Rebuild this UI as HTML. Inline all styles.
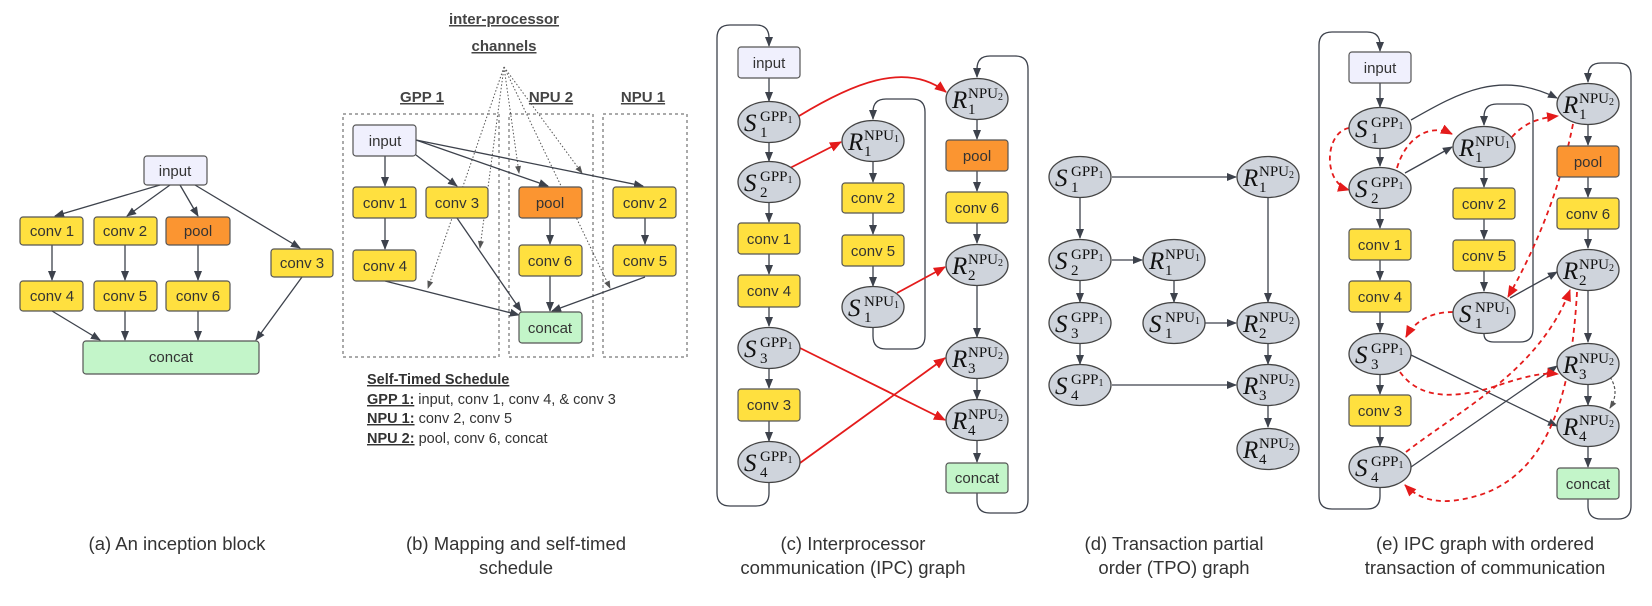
<!DOCTYPE html>
<html><head><meta charset="utf-8"><style>
body{margin:0;background:#fff}
svg{display:block}
.bx{stroke:#555;stroke-width:1.2}
.i{fill:#f0f0fd}.y{fill:#ffe03f}.o{fill:#fb9531}.g{fill:#c3f5c9}
.t{font-family:"Liberation Sans",sans-serif;font-size:15px;fill:#333;text-anchor:middle}
.e{stroke:#3d424c;stroke-width:1.3;fill:none}
.r{stroke:#e41b1b;stroke-width:1.8;fill:none}
.rd{stroke:#e41b1b;stroke-width:1.8;fill:none;stroke-dasharray:5 4}
.dt{stroke:#555;stroke-width:1;fill:none;stroke-dasharray:1.5 2}
.n ellipse{fill:#cfd4dc;stroke:#444;stroke-width:1.3}
.v{font-family:"Liberation Serif",serif;font-style:italic;font-size:25px;fill:#111}
.p{font-family:"Liberation Serif",serif;font-size:15px;fill:#111}
.q{font-size:10px}
.c{font-family:"Liberation Sans",sans-serif;font-size:18.5px;fill:#333;text-anchor:middle}
.h{font-family:"Liberation Sans",sans-serif;font-size:15px;font-weight:bold;fill:#444;text-decoration:underline}
.s{font-family:"Liberation Sans",sans-serif;font-size:14.5px;fill:#333}
</style></head><body>
<svg width="1652" height="606" viewBox="0 0 1652 606" xmlns="http://www.w3.org/2000/svg">
<defs>
<marker id="a" markerWidth="10" markerHeight="10" refX="9" refY="5" orient="auto" markerUnits="userSpaceOnUse"><path d="M0,1 L10,5 L0,9 z" fill="#3d424c"/></marker>
<marker id="ar" markerWidth="12" markerHeight="12" refX="11" refY="6" orient="auto" markerUnits="userSpaceOnUse"><path d="M0,1 L12,6 L0,11 z" fill="#e41b1b"/></marker>
<marker id="ad" markerWidth="8" markerHeight="8" refX="7" refY="4" orient="auto" markerUnits="userSpaceOnUse"><path d="M0,1 L8,4 L0,7 z" fill="#555"/></marker>
</defs>

<!-- Panel a -->
<g class="e" marker-end="url(#a)">
<line x1="160" y1="185" x2="55" y2="216"/><line x1="170" y1="185" x2="127" y2="216"/>
<line x1="180" y1="185" x2="198" y2="216"/><line x1="195" y1="185" x2="300" y2="248"/>
<line x1="52" y1="245" x2="52" y2="280"/><line x1="125" y1="245" x2="125" y2="280"/><line x1="198" y1="245" x2="198" y2="280"/>
<line x1="52" y1="311" x2="100" y2="340"/><line x1="125" y1="311" x2="125" y2="340"/><line x1="198" y1="311" x2="198" y2="340"/>
<line x1="302" y1="277" x2="256" y2="340"/>
</g>
<rect class="bx i" x="144" y="156" width="63" height="29" rx="3"/><text class="t" x="175" y="176">input</text>
<rect class="bx y" x="20" y="217" width="63" height="28" rx="3"/><text class="t" x="52" y="236">conv 1</text>
<rect class="bx y" x="94" y="217" width="63" height="28" rx="3"/><text class="t" x="125" y="236">conv 2</text>
<rect class="bx o" x="166" y="217" width="64" height="28" rx="3"/><text class="t" x="198" y="236">pool</text>
<rect class="bx y" x="271" y="249" width="62" height="28" rx="3"/><text class="t" x="302" y="268">conv 3</text>
<rect class="bx y" x="20" y="281" width="63" height="30" rx="3"/><text class="t" x="52" y="301">conv 4</text>
<rect class="bx y" x="94" y="281" width="63" height="30" rx="3"/><text class="t" x="125" y="301">conv 5</text>
<rect class="bx y" x="166" y="281" width="64" height="30" rx="3"/><text class="t" x="198" y="301">conv 6</text>
<rect class="bx g" x="83" y="341" width="176" height="33" rx="3"/><text class="t" x="171" y="362">concat</text>
<text class="c" x="177" y="550">(a) An inception block</text>

<!-- Panel b -->
<text class="h" x="504" y="24" text-anchor="middle">inter-processor</text>
<text class="h" x="504" y="51" text-anchor="middle">channels</text>
<text class="h" x="422" y="102" text-anchor="middle">GPP 1</text>
<text class="h" x="551" y="102" text-anchor="middle">NPU 2</text>
<text class="h" x="643" y="102" text-anchor="middle">NPU 1</text>
<rect x="343" y="114" width="156" height="243" fill="none" stroke="#555" stroke-dasharray="3 3"/>
<rect x="509" y="114" width="84" height="243" fill="none" stroke="#555" stroke-dasharray="3 3"/>
<rect x="603" y="114" width="84" height="243" fill="none" stroke="#555" stroke-dasharray="3 3"/>
<g class="dt" marker-end="url(#ad)">
<line x1="504" y1="67" x2="428" y2="288"/><line x1="504" y1="67" x2="480" y2="248"/>
<line x1="504" y1="67" x2="519" y2="173"/><line x1="504" y1="67" x2="582" y2="173"/>
<line x1="504" y1="67" x2="610" y2="288"/>
</g>
<g class="e" marker-end="url(#a)">
<line x1="385" y1="156" x2="385" y2="186"/><line x1="416" y1="155" x2="457" y2="186"/>
<line x1="416" y1="140" x2="548" y2="186"/><line x1="416" y1="140" x2="643" y2="186"/>
<line x1="385" y1="218" x2="385" y2="249"/><line x1="550" y1="218" x2="550" y2="244"/><line x1="645" y1="218" x2="645" y2="244"/>
<line x1="385" y1="281" x2="519" y2="315"/><line x1="457" y1="218" x2="521" y2="311"/>
<line x1="550" y1="276" x2="550" y2="311"/><line x1="645" y1="277" x2="552" y2="311"/>
</g>
<rect class="bx i" x="353" y="125" width="63" height="31" rx="3"/><text class="t" x="385" y="146">input</text>
<rect class="bx y" x="353" y="187" width="63" height="31" rx="3"/><text class="t" x="385" y="208">conv 1</text>
<rect class="bx y" x="426" y="187" width="62" height="31" rx="3"/><text class="t" x="457" y="208">conv 3</text>
<rect class="bx o" x="519" y="187" width="63" height="31" rx="3"/><text class="t" x="550" y="208">pool</text>
<rect class="bx y" x="613" y="187" width="63" height="31" rx="3"/><text class="t" x="645" y="208">conv 2</text>
<rect class="bx y" x="353" y="250" width="63" height="31" rx="3"/><text class="t" x="385" y="271">conv 4</text>
<rect class="bx y" x="519" y="245" width="63" height="31" rx="3"/><text class="t" x="550" y="266">conv 6</text>
<rect class="bx y" x="613" y="245" width="63" height="31" rx="3"/><text class="t" x="645" y="266">conv 5</text>
<rect class="bx g" x="519" y="312" width="63" height="31" rx="3"/><text class="t" x="550" y="333">concat</text>
<text class="s" x="367" y="384"><tspan font-weight="bold" text-decoration="underline">Self-Timed Schedule</tspan></text>
<text class="s" x="367" y="404"><tspan font-weight="bold" text-decoration="underline">GPP 1:</tspan> input, conv 1, conv 4, &amp; conv 3</text>
<text class="s" x="367" y="423"><tspan font-weight="bold" text-decoration="underline">NPU 1:</tspan> conv 2, conv 5</text>
<text class="s" x="367" y="443"><tspan font-weight="bold" text-decoration="underline">NPU 2:</tspan> pool, conv 6, concat</text>
<text class="c" x="516" y="550">(b) Mapping and self-timed</text>
<text class="c" x="516" y="574">schedule</text>

<!-- Panel c -->
<g class="e" marker-end="url(#a)">
<line x1="769" y1="78" x2="769" y2="101"/><line x1="769" y1="143" x2="769" y2="161"/><line x1="769" y1="203" x2="769" y2="222"/>
<line x1="769" y1="254" x2="769" y2="274"/><line x1="769" y1="307" x2="769" y2="326"/><line x1="769" y1="369" x2="769" y2="388"/>
<line x1="769" y1="421" x2="769" y2="441"/>
<path d="M769,483 V493 Q769,506 756,506 H730 Q717,506 717,493 V38 Q717,25 730,25 H756 Q769,25 769,38 V46"/>
<line x1="873" y1="162" x2="873" y2="182"/><line x1="873" y1="213" x2="873" y2="234"/><line x1="873" y1="266" x2="873" y2="286"/>
<path d="M873,328 V336 Q873,349 886,349 H912 Q925,349 925,336 V112 Q925,99 912,99 H886 Q873,99 873,112 V119"/>
<line x1="977" y1="120" x2="977" y2="139"/><line x1="977" y1="171" x2="977" y2="191"/><line x1="977" y1="223" x2="977" y2="243"/>
<line x1="977" y1="286" x2="977" y2="337"/><line x1="977" y1="379" x2="977" y2="399"/><line x1="977" y1="441" x2="977" y2="462"/>
<path d="M977,493 V500 Q977,513 990,513 H1015 Q1028,513 1028,500 V69 Q1028,56 1015,56 H990 Q977,56 977,69 V77"/>
</g>
<g marker-end="url(#ar)">
<path class="r" d="M799,116 C850,85 905,60 946,92"/>
<line class="r" x1="790" y1="168" x2="841" y2="142"/>
<line class="r" x1="897" y1="293" x2="945" y2="267"/>
<line class="r" x1="800" y1="348" x2="945" y2="420"/>
<line class="r" x1="800" y1="463" x2="945" y2="358"/>
</g>
<rect class="bx i" x="738" y="47" width="62" height="31" rx="3"/><text class="t" x="769" y="68">input</text>
<rect class="bx y" x="738" y="223" width="62" height="31" rx="3"/><text class="t" x="769" y="244">conv 1</text>
<rect class="bx y" x="738" y="275" width="62" height="32" rx="3"/><text class="t" x="769" y="296">conv 4</text>
<rect class="bx y" x="738" y="389" width="62" height="32" rx="3"/><text class="t" x="769" y="410">conv 3</text>
<rect class="bx y" x="842" y="183" width="62" height="30" rx="3"/><text class="t" x="873" y="203">conv 2</text>
<rect class="bx y" x="842" y="235" width="62" height="31" rx="3"/><text class="t" x="873" y="256">conv 5</text>
<rect class="bx o" x="946" y="140" width="62" height="31" rx="3"/><text class="t" x="977" y="161">pool</text>
<rect class="bx y" x="946" y="192" width="62" height="31" rx="3"/><text class="t" x="977" y="213">conv 6</text>
<rect class="bx g" x="946" y="463" width="62" height="30" rx="3"/><text class="t" x="977" y="483">concat</text>
<g class="n" transform="translate(769,122)"><ellipse rx="31" ry="20.5"/><text class="v" x="-25" y="9">S</text><text class="p" x="-9" y="-1">GPP<tspan class="q" dy="2">1</tspan></text><text class="p" x="-9" y="15">1</text></g>
<g class="n" transform="translate(769,182)"><ellipse rx="31" ry="20.5"/><text class="v" x="-25" y="9">S</text><text class="p" x="-9" y="-1">GPP<tspan class="q" dy="2">1</tspan></text><text class="p" x="-9" y="15">2</text></g>
<g class="n" transform="translate(769,348)"><ellipse rx="31" ry="20.5"/><text class="v" x="-25" y="9">S</text><text class="p" x="-9" y="-1">GPP<tspan class="q" dy="2">1</tspan></text><text class="p" x="-9" y="15">3</text></g>
<g class="n" transform="translate(769,462)"><ellipse rx="31" ry="20.5"/><text class="v" x="-25" y="9">S</text><text class="p" x="-9" y="-1">GPP<tspan class="q" dy="2">1</tspan></text><text class="p" x="-9" y="15">4</text></g>
<g class="n" transform="translate(873,141)"><ellipse rx="31" ry="20.5"/><text class="v" x="-25" y="9">R</text><text class="p" x="-9" y="-1">NPU<tspan class="q" dy="2">1</tspan></text><text class="p" x="-9" y="15">1</text></g>
<g class="n" transform="translate(873,307)"><ellipse rx="31" ry="20.5"/><text class="v" x="-25" y="9">S</text><text class="p" x="-9" y="-1">NPU<tspan class="q" dy="2">1</tspan></text><text class="p" x="-9" y="15">1</text></g>
<g class="n" transform="translate(977,99)"><ellipse rx="31" ry="20.5"/><text class="v" x="-25" y="9">R</text><text class="p" x="-9" y="-1">NPU<tspan class="q" dy="2">2</tspan></text><text class="p" x="-9" y="15">1</text></g>
<g class="n" transform="translate(977,265)"><ellipse rx="31" ry="20.5"/><text class="v" x="-25" y="9">R</text><text class="p" x="-9" y="-1">NPU<tspan class="q" dy="2">2</tspan></text><text class="p" x="-9" y="15">2</text></g>
<g class="n" transform="translate(977,358)"><ellipse rx="31" ry="20.5"/><text class="v" x="-25" y="9">R</text><text class="p" x="-9" y="-1">NPU<tspan class="q" dy="2">2</tspan></text><text class="p" x="-9" y="15">3</text></g>
<g class="n" transform="translate(977,420)"><ellipse rx="31" ry="20.5"/><text class="v" x="-25" y="9">R</text><text class="p" x="-9" y="-1">NPU<tspan class="q" dy="2">2</tspan></text><text class="p" x="-9" y="15">4</text></g>
<text class="c" x="853" y="550">(c) Interprocessor</text>
<text class="c" x="853" y="574">communication (IPC) graph</text>

<!-- Panel d -->
<g class="e" marker-end="url(#a)">
<line x1="1080" y1="198" x2="1080" y2="238"/><line x1="1080" y1="281" x2="1080" y2="302"/><line x1="1080" y1="344" x2="1080" y2="364"/>
<line x1="1112" y1="177" x2="1236" y2="177"/><line x1="1112" y1="260" x2="1142" y2="260"/>
<line x1="1174" y1="281" x2="1174" y2="302"/><line x1="1205" y1="323" x2="1236" y2="323"/>
<line x1="1268" y1="198" x2="1268" y2="302"/><line x1="1268" y1="344" x2="1268" y2="364"/><line x1="1268" y1="406" x2="1268" y2="427"/>
<line x1="1112" y1="385" x2="1236" y2="385"/>
</g>
<g class="n" transform="translate(1080,177)"><ellipse rx="31" ry="20.5"/><text class="v" x="-25" y="9">S</text><text class="p" x="-9" y="-1">GPP<tspan class="q" dy="2">1</tspan></text><text class="p" x="-9" y="15">1</text></g>
<g class="n" transform="translate(1080,260)"><ellipse rx="31" ry="20.5"/><text class="v" x="-25" y="9">S</text><text class="p" x="-9" y="-1">GPP<tspan class="q" dy="2">1</tspan></text><text class="p" x="-9" y="15">2</text></g>
<g class="n" transform="translate(1080,323)"><ellipse rx="31" ry="20.5"/><text class="v" x="-25" y="9">S</text><text class="p" x="-9" y="-1">GPP<tspan class="q" dy="2">1</tspan></text><text class="p" x="-9" y="15">3</text></g>
<g class="n" transform="translate(1080,385)"><ellipse rx="31" ry="20.5"/><text class="v" x="-25" y="9">S</text><text class="p" x="-9" y="-1">GPP<tspan class="q" dy="2">1</tspan></text><text class="p" x="-9" y="15">4</text></g>
<g class="n" transform="translate(1174,260)"><ellipse rx="31" ry="20.5"/><text class="v" x="-25" y="9">R</text><text class="p" x="-9" y="-1">NPU<tspan class="q" dy="2">1</tspan></text><text class="p" x="-9" y="15">1</text></g>
<g class="n" transform="translate(1174,323)"><ellipse rx="31" ry="20.5"/><text class="v" x="-25" y="9">S</text><text class="p" x="-9" y="-1">NPU<tspan class="q" dy="2">1</tspan></text><text class="p" x="-9" y="15">1</text></g>
<g class="n" transform="translate(1268,177)"><ellipse rx="31" ry="20.5"/><text class="v" x="-25" y="9">R</text><text class="p" x="-9" y="-1">NPU<tspan class="q" dy="2">2</tspan></text><text class="p" x="-9" y="15">1</text></g>
<g class="n" transform="translate(1268,323)"><ellipse rx="31" ry="20.5"/><text class="v" x="-25" y="9">R</text><text class="p" x="-9" y="-1">NPU<tspan class="q" dy="2">2</tspan></text><text class="p" x="-9" y="15">2</text></g>
<g class="n" transform="translate(1268,385)"><ellipse rx="31" ry="20.5"/><text class="v" x="-25" y="9">R</text><text class="p" x="-9" y="-1">NPU<tspan class="q" dy="2">2</tspan></text><text class="p" x="-9" y="15">3</text></g>
<g class="n" transform="translate(1268,449)"><ellipse rx="31" ry="20.5"/><text class="v" x="-25" y="9">R</text><text class="p" x="-9" y="-1">NPU<tspan class="q" dy="2">2</tspan></text><text class="p" x="-9" y="15">4</text></g>
<text class="c" x="1174" y="550">(d) Transaction partial</text>
<text class="c" x="1174" y="574">order (TPO) graph</text>

<!-- Panel e -->
<g class="e" marker-end="url(#a)">
<line x1="1380" y1="83" x2="1380" y2="107"/><line x1="1380" y1="149" x2="1380" y2="166"/><line x1="1380" y1="209" x2="1380" y2="228"/>
<line x1="1380" y1="260" x2="1380" y2="280"/><line x1="1380" y1="312" x2="1380" y2="332"/><line x1="1380" y1="375" x2="1380" y2="394"/>
<line x1="1380" y1="426" x2="1380" y2="446"/>
<path d="M1380,488 V496 Q1380,509 1367,509 H1332 Q1319,509 1319,496 V45 Q1319,32 1332,32 H1367 Q1380,32 1380,45 V51"/>
<line x1="1484" y1="168" x2="1484" y2="187"/><line x1="1484" y1="219" x2="1484" y2="239"/><line x1="1484" y1="271" x2="1484" y2="291"/>
<path d="M1484,334 Q1484,342 1494,342 H1520 Q1533,342 1533,329 V117 Q1533,104 1520,104 H1497 Q1484,104 1484,117 V125"/>
<line x1="1588" y1="125" x2="1588" y2="145"/><line x1="1588" y1="177" x2="1588" y2="197"/><line x1="1588" y1="229" x2="1588" y2="248"/>
<line x1="1588" y1="291" x2="1588" y2="342"/><line x1="1588" y1="385" x2="1588" y2="405"/><line x1="1588" y1="447" x2="1588" y2="467"/>
<path d="M1588,499 V506 Q1588,519 1601,519 H1618 Q1631,519 1631,506 V76 Q1631,63 1618,63 H1601 Q1588,63 1588,76 V82"/>
<path d="M1411,120 C1460,92 1500,70 1557,98"/>
<line x1="1405" y1="173" x2="1452" y2="147"/>
<line x1="1510" y1="298" x2="1557" y2="272"/>
<line x1="1411" y1="355" x2="1557" y2="426"/>
<line x1="1411" y1="467" x2="1557" y2="366"/>
</g>
<path d="M1610,377 Q1620,392 1610,408" fill="none" stroke="#555" stroke-width="1.2" stroke-dasharray="3 2" marker-end="url(#ad)"/>
<g marker-end="url(#ar)">
<path class="rd" d="M1349,128 C1325,132 1322,182 1349,190"/>
<path class="rd" d="M1397,168 C1405,140 1428,122 1452,134"/>
<path class="rd" d="M1512,137 C1525,122 1540,118 1558,116"/>
<path class="rd" d="M1573,124 C1560,190 1535,250 1508,297"/>
<path class="rd" d="M1453,312 C1430,312 1414,322 1406,337"/>
<path class="rd" d="M1400,372 C1420,400 1455,398 1490,388 C1520,378 1540,372 1558,374"/>
<path class="rd" d="M1406,452 C1460,410 1540,370 1570,290"/>
<path class="rd" d="M1577,292 C1572,380 1555,470 1480,495 C1440,507 1420,500 1405,485"/>
</g>
<rect class="bx i" x="1349" y="52" width="62" height="31" rx="3"/><text class="t" x="1380" y="73">input</text>
<rect class="bx y" x="1349" y="229" width="62" height="31" rx="3"/><text class="t" x="1380" y="250">conv 1</text>
<rect class="bx y" x="1349" y="281" width="62" height="31" rx="3"/><text class="t" x="1380" y="302">conv 4</text>
<rect class="bx y" x="1349" y="395" width="62" height="31" rx="3"/><text class="t" x="1380" y="416">conv 3</text>
<rect class="bx y" x="1453" y="188" width="62" height="31" rx="3"/><text class="t" x="1484" y="209">conv 2</text>
<rect class="bx y" x="1453" y="240" width="62" height="31" rx="3"/><text class="t" x="1484" y="261">conv 5</text>
<rect class="bx o" x="1557" y="146" width="62" height="31" rx="3"/><text class="t" x="1588" y="167">pool</text>
<rect class="bx y" x="1557" y="198" width="62" height="31" rx="3"/><text class="t" x="1588" y="219">conv 6</text>
<rect class="bx g" x="1557" y="468" width="62" height="31" rx="3"/><text class="t" x="1588" y="489">concat</text>
<g class="n" transform="translate(1380,128)"><ellipse rx="31" ry="20.5"/><text class="v" x="-25" y="9">S</text><text class="p" x="-9" y="-1">GPP<tspan class="q" dy="2">1</tspan></text><text class="p" x="-9" y="15">1</text></g>
<g class="n" transform="translate(1380,188)"><ellipse rx="31" ry="20.5"/><text class="v" x="-25" y="9">S</text><text class="p" x="-9" y="-1">GPP<tspan class="q" dy="2">1</tspan></text><text class="p" x="-9" y="15">2</text></g>
<g class="n" transform="translate(1380,354)"><ellipse rx="31" ry="20.5"/><text class="v" x="-25" y="9">S</text><text class="p" x="-9" y="-1">GPP<tspan class="q" dy="2">1</tspan></text><text class="p" x="-9" y="15">3</text></g>
<g class="n" transform="translate(1380,467)"><ellipse rx="31" ry="20.5"/><text class="v" x="-25" y="9">S</text><text class="p" x="-9" y="-1">GPP<tspan class="q" dy="2">1</tspan></text><text class="p" x="-9" y="15">4</text></g>
<g class="n" transform="translate(1484,147)"><ellipse rx="31" ry="20.5"/><text class="v" x="-25" y="9">R</text><text class="p" x="-9" y="-1">NPU<tspan class="q" dy="2">1</tspan></text><text class="p" x="-9" y="15">1</text></g>
<g class="n" transform="translate(1484,313)"><ellipse rx="31" ry="20.5"/><text class="v" x="-25" y="9">S</text><text class="p" x="-9" y="-1">NPU<tspan class="q" dy="2">1</tspan></text><text class="p" x="-9" y="15">1</text></g>
<g class="n" transform="translate(1588,104)"><ellipse rx="31" ry="20.5"/><text class="v" x="-25" y="9">R</text><text class="p" x="-9" y="-1">NPU<tspan class="q" dy="2">2</tspan></text><text class="p" x="-9" y="15">1</text></g>
<g class="n" transform="translate(1588,270)"><ellipse rx="31" ry="20.5"/><text class="v" x="-25" y="9">R</text><text class="p" x="-9" y="-1">NPU<tspan class="q" dy="2">2</tspan></text><text class="p" x="-9" y="15">2</text></g>
<g class="n" transform="translate(1588,364)"><ellipse rx="31" ry="20.5"/><text class="v" x="-25" y="9">R</text><text class="p" x="-9" y="-1">NPU<tspan class="q" dy="2">2</tspan></text><text class="p" x="-9" y="15">3</text></g>
<g class="n" transform="translate(1588,426)"><ellipse rx="31" ry="20.5"/><text class="v" x="-25" y="9">R</text><text class="p" x="-9" y="-1">NPU<tspan class="q" dy="2">2</tspan></text><text class="p" x="-9" y="15">4</text></g>
<text class="c" x="1485" y="550">(e) IPC graph with ordered</text>
<text class="c" x="1485" y="574">transaction of communication</text>
</svg>
</body></html>
